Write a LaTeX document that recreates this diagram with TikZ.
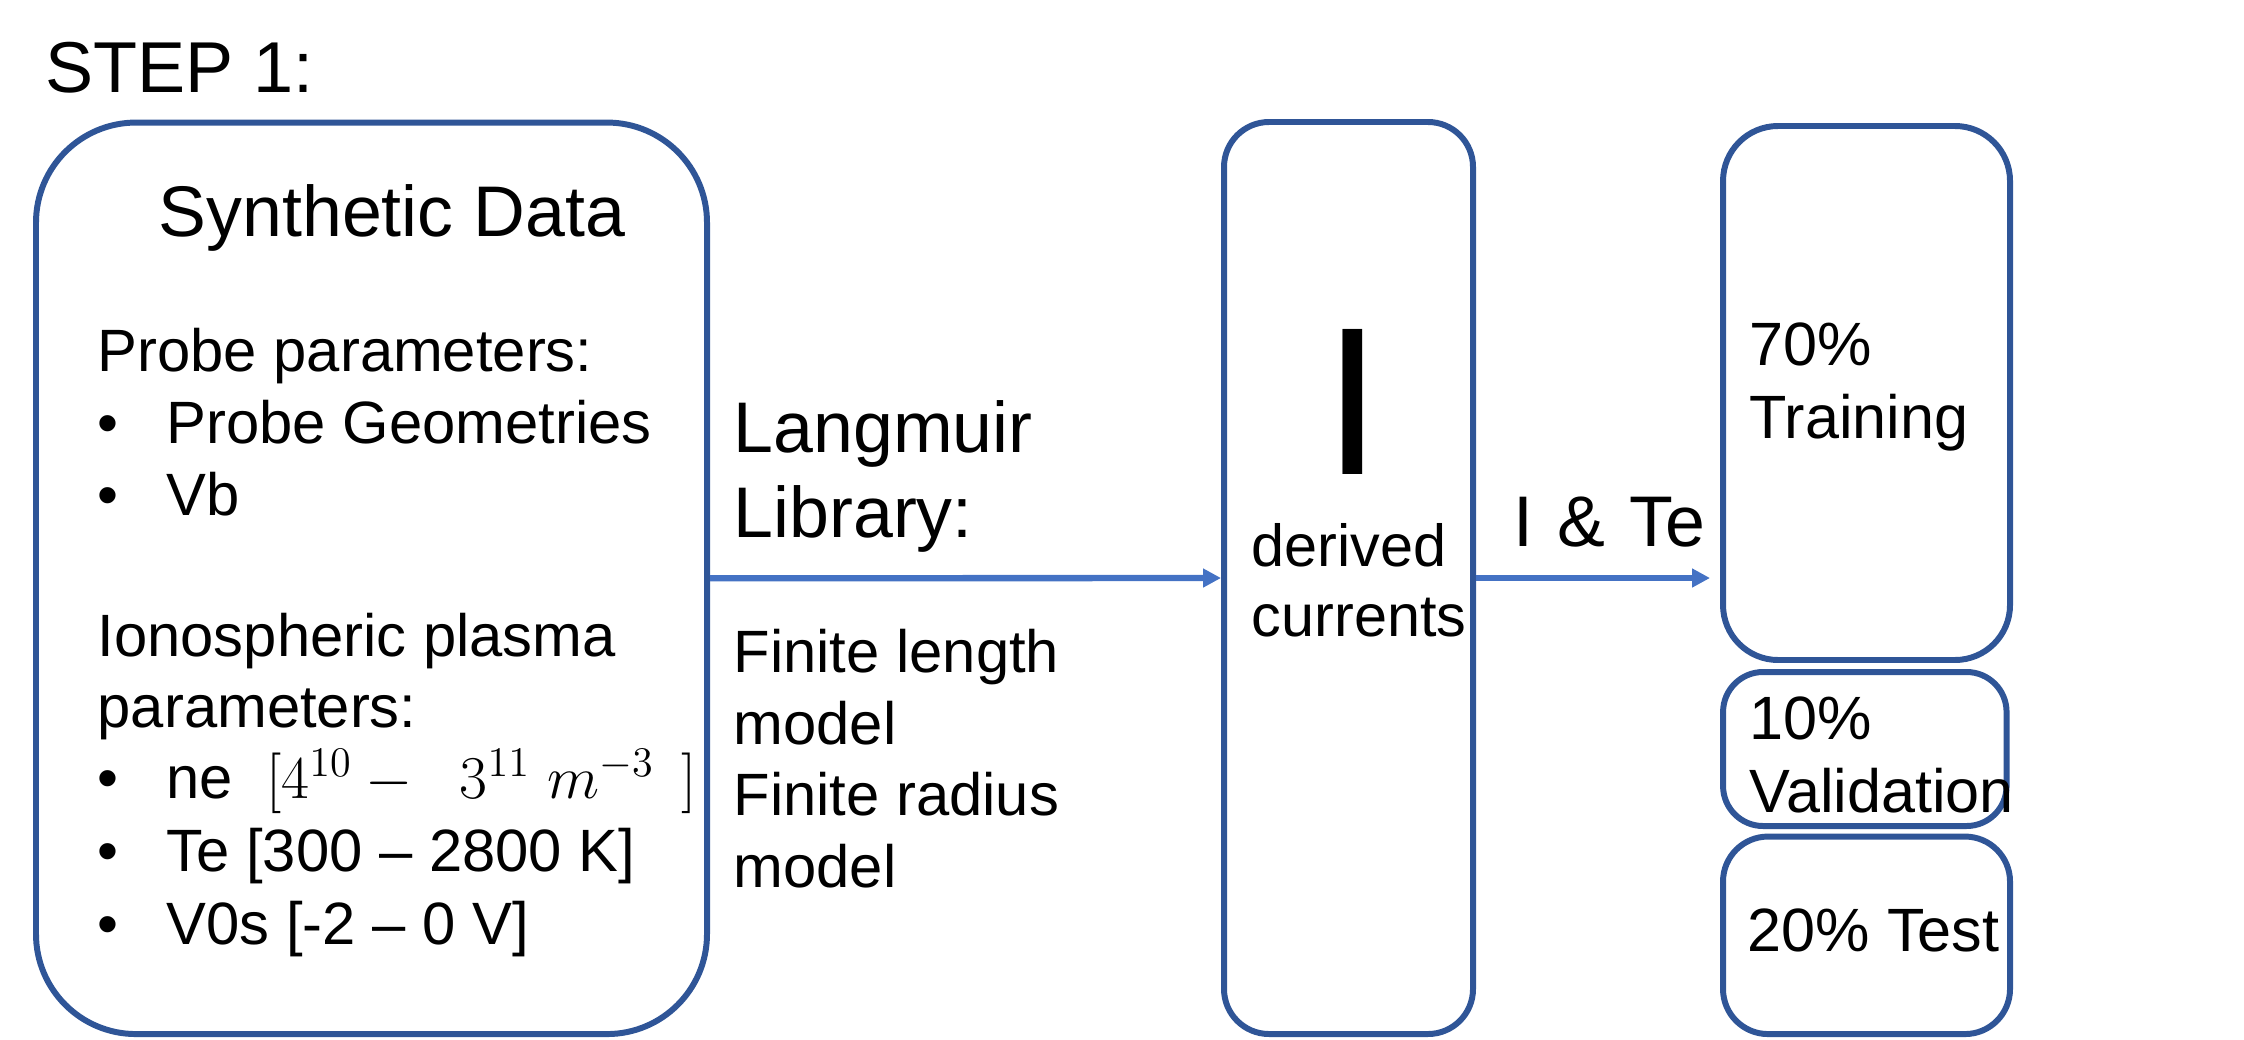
\documentclass[tikz,border=0pt]{standalone}
\usepackage{fontspec}
\setmainfont{Liberation Sans}
\usetikzlibrary{arrows.meta}
\definecolor{boxblue}{RGB}{47,85,151}
\definecolor{arrowblue}{RGB}{68,114,196}
\newcommand{\bul}{\makebox[0.69cm][l]{\textbullet}}

\begin{document}
\begin{tikzpicture}[
		box/.style={draw=boxblue, line width=1.7pt, rectangle, inner sep=0pt},
		txt/.style={anchor=base west, inner sep=0pt},
		body/.style={txt, font=\fontsize{17}{20}\selectfont},
		split/.style={txt, font=\fontsize{17.4}{20}\selectfont},
		big/.style={txt, font=\fontsize{20.4}{24}\selectfont},
		arrow/.style={draw=arrowblue, line width=1.8pt, -{Triangle[length=0.18cm,width=0.18cm]}}
	]
	\useasboundingbox (0,0) rectangle (22.44,-10.39);

	% title
	\node[txt, font=\fontsize{20.5}{25}\selectfont] (step) at (0.45,-0.93) {STEP 1:};

	% synthetic data
	\node[box, rounded corners=1cm, minimum width=6.71cm, minimum height=9.115cm] (synth) at (3.715,-5.783) {};
	\node[big] (synth-title) at (1.58,-2.366) {Synthetic Data};
	\foreach \t/\y [count=\i] in {Probe parameters:/3.71, \bul Probe Geometries/4.43, \bul Vb/5.155, Ionospheric plasma/6.56, parameters:/7.276, {\bul ne\ \ $[4^{10}-\ \ 3^{11}\ m^{-3}\ \,]$}/7.985, \bul Te [300 -- 2800 K]/8.71, \bul V0s [-2 -- 0 V]/9.44} {
		\node[body] (par-\i) at (0.97,-\y) {\t};
	}

	% langmuir library
	\node[big] (lib-1) at (7.33,-4.52) {Langmuir};
	\node[big] (lib-2) at (7.33,-5.37) {Library:};
	\foreach \t/\y [count=\i] in {Finite length/6.72, model/7.44, Finite radius/8.156, model/8.87} {
		\node[body] (model-\i) at (7.33,-\y) {\t};
	}

	% derived currents
	\node[box, rounded corners=0.45cm, minimum width=2.49cm, minimum height=9.12cm] (mid) at (13.485,-5.78) {};
	\node[anchor=base, inner sep=0pt, font=\fontsize{60}{64}\selectfont] (cur-sym) at (13.53,-4.745) {I};
	\node[txt, font=\fontsize{16.9}{20}\selectfont] (cur-1) at (12.51,-5.66) {derived};
	\node[txt, font=\fontsize{16.9}{20}\selectfont] (cur-2) at (12.51,-6.36) {currents};
	\node[big] (ite) at (15.13,-5.46) {I\hspace{0.04cm} \&\hspace{0.04cm} Te};

	% data split
	\node[box, rounded corners=0.55cm, minimum width=2.87cm, minimum height=5.34cm] (train) at (18.665,-3.93) {};
	\node[box, rounded corners=0.4cm, minimum width=2.835cm, minimum height=1.54cm] (valid) at (18.648,-7.49) {};
	\node[box, rounded corners=0.45cm, minimum width=2.87cm, minimum height=1.975cm] (test) at (18.665,-9.353) {};
	\node[split] (train-1) at (17.49,-3.65) {70\%};
	\node[split] (train-2) at (17.49,-4.38) {Training};
	\node[split] (valid-1) at (17.49,-7.395) {10\%};
	\node[split] (valid-2) at (17.49,-8.126) {Validation};
	\node[split] (test-1) at (17.47,-9.515) {20\% Test};

	% arrows
	\draw[arrow] (synth.east) -- (mid.west);
	\draw[arrow, shorten >=0.1cm] (mid.east) -- (mid.east -| train.west);

\end{tikzpicture}
\end{document}
